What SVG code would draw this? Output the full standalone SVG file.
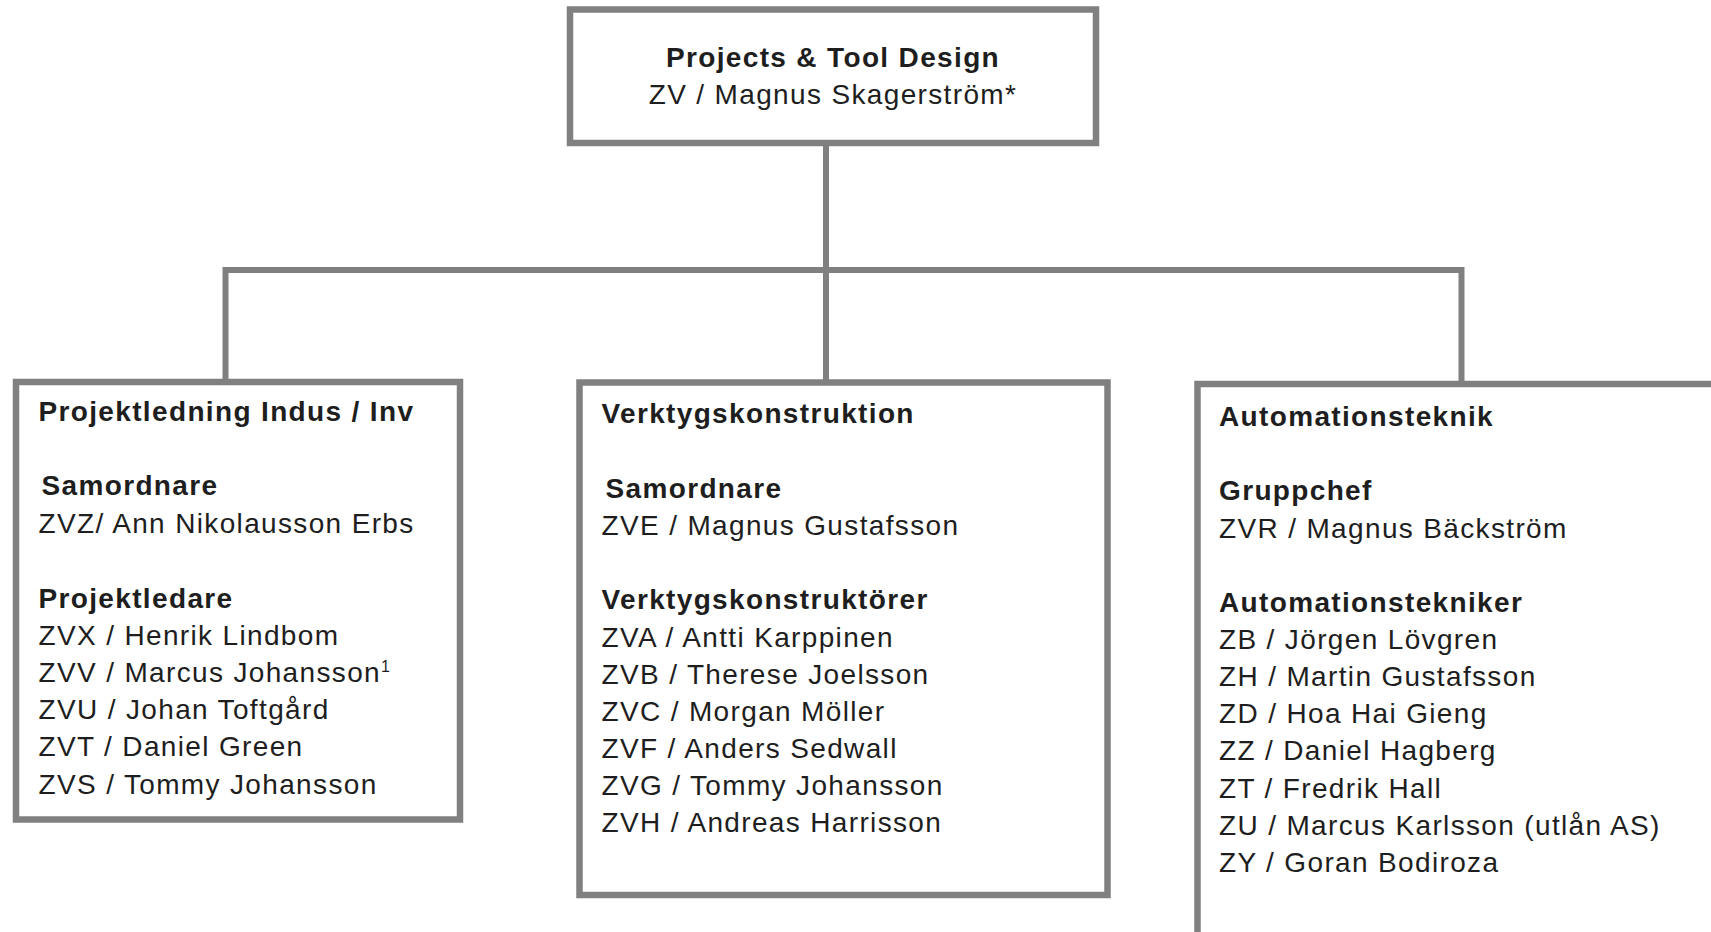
<svg xmlns="http://www.w3.org/2000/svg" width="1711" height="932" viewBox="0 0 1711 932">
<style>
.box{fill:#ffffff;stroke:#808080;stroke-width:6.5}
.con{fill:none;stroke:#808080;stroke-width:6}
text{font-family:"Liberation Sans",Arial,sans-serif;font-size:28px;fill:#1e1e1e;letter-spacing:1.35px}
.b{font-weight:bold}
.c{text-anchor:middle}
.sup{font-size:16px;letter-spacing:0}
</style>
<rect x="0" y="0" width="1711" height="932" fill="#ffffff"/>
<g id="connectors">
<line class="con" x1="826" y1="146" x2="826" y2="382"/>
<polyline class="con" points="225.5,381 225.5,270 1461.5,270 1461.5,384"/>
</g>
<g id="node-top">
<rect class="box" x="570" y="9.5" width="526" height="133.5"/>
<text class="b c" x="833" y="67">Projects &amp; Tool Design</text>
<text class="c" x="833" y="103.5">ZV / Magnus Skagerström*</text>
</g>
<g id="node-projektledning">
<rect class="box" x="16" y="382" width="444" height="437.5"/>
<text class="b" x="38.5" y="421">Projektledning Indus / Inv</text>
<text class="b" x="41.5" y="495">Samordnare</text>
<text x="38.5" y="532.5">ZVZ/ Ann Nikolausson Erbs</text>
<text class="b" x="38.5" y="607.5">Projektledare</text>
<text x="38.5" y="644.5">ZVX / Henrik Lindbom</text>
<text x="38.5" y="681.5">ZVV / Marcus Johansson<tspan class="sup" dy="-10">1</tspan></text>
<text x="38.5" y="719">ZVU / Johan Toftgård</text>
<text x="38.5" y="756">ZVT / Daniel Green</text>
<text x="38.5" y="793.5">ZVS / Tommy Johansson</text>
</g>
<g id="node-verktygskonstruktion">
<rect class="box" x="579.5" y="382.5" width="528" height="512.5"/>
<text class="b" x="601.5" y="423">Verktygskonstruktion</text>
<text class="b" x="605.5" y="497.5">Samordnare</text>
<text x="601.5" y="534.5">ZVE / Magnus Gustafsson</text>
<text class="b" x="601.5" y="608.5">Verktygskonstruktörer</text>
<text x="601.5" y="646.5">ZVA / Antti Karppinen</text>
<text x="601.5" y="683.5">ZVB / Therese Joelsson</text>
<text x="601.5" y="720.5">ZVC / Morgan Möller</text>
<text x="601.5" y="757.5">ZVF / Anders Sedwall</text>
<text x="601.5" y="795">ZVG / Tommy Johansson</text>
<text x="601.5" y="832">ZVH / Andreas Harrisson</text>
</g>
<g id="node-automationsteknik">
<rect class="box" x="1197.5" y="384" width="600" height="600"/>
<text class="b" x="1219" y="425.5">Automationsteknik</text>
<text class="b" x="1219" y="499.5">Gruppchef</text>
<text x="1219" y="537.5">ZVR / Magnus Bäckström</text>
<text class="b" x="1219" y="611.5">Automationstekniker</text>
<text x="1219" y="649">ZB / Jörgen Lövgren</text>
<text x="1219" y="686">ZH / Martin Gustafsson</text>
<text x="1219" y="723">ZD / Hoa Hai Gieng</text>
<text x="1219" y="760">ZZ / Daniel Hagberg</text>
<text x="1219" y="797.5">ZT / Fredrik Hall</text>
<text x="1219" y="834.5">ZU / Marcus Karlsson (utlån AS)</text>
<text x="1219" y="871.5">ZY / Goran Bodiroza</text>
</g>
</svg>
